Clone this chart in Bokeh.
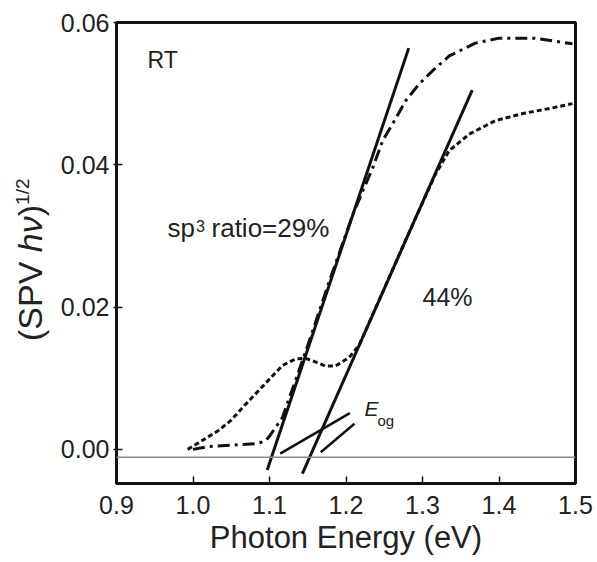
from bokeh.plotting import figure
from bokeh.models import Label, Span, Range1d, FixedTicker, PrintfTickFormatter, Div
from bokeh.layouts import row
from bokeh.embed import file_html
from bokeh.resources import INLINE

# ---- data ----
# sp3 ratio = 29 % (dash-dot curve)
e29 = [1.000, 1.020, 1.050, 1.083, 1.095, 1.101, 1.117, 1.150, 1.180, 1.210,
       1.235, 1.248, 1.265, 1.278, 1.295, 1.313, 1.335, 1.369, 1.400, 1.447, 1.496]
s29 = [0.0000, 0.0004, 0.0006, 0.0008, 0.0012, 0.0020, 0.0045, 0.0146, 0.0242, 0.0333,
       0.0396, 0.0434, 0.0465, 0.0490, 0.0513, 0.0532, 0.0553, 0.0571, 0.0578, 0.0578, 0.0570]

# sp3 ratio = 44 % (short-dash curve)
e44 = [0.993, 1.010, 1.034, 1.050, 1.065, 1.080, 1.095, 1.117, 1.134, 1.147, 1.160,
       1.173, 1.186, 1.204, 1.217, 1.250, 1.280, 1.317, 1.335, 1.361, 1.395, 1.431,
       1.470, 1.496]
s44 = [0.0000, 0.0011, 0.0027, 0.0041, 0.0059, 0.0076, 0.0093, 0.0118, 0.0127, 0.0128, 0.0123,
       0.0117, 0.0117, 0.0129, 0.0146, 0.0226, 0.0299, 0.0387, 0.0420, 0.0443, 0.0462, 0.0472,
       0.0480, 0.0486]

# linear extrapolation (tangent) lines
tan29_x = [1.097, 1.282]
tan29_y = [-0.0029, 0.0564]
tan44_x = [1.143, 1.365]
tan44_y = [-0.0034, 0.0505]

# E_og marker lines
eogA_x = [1.114, 1.205]
eogA_y = [-0.0006, 0.0051]
eogB_x = [1.167, 1.211]
eogB_y = [-0.0004, 0.0036]

baseline_level = -0.0011

x_ticks = [0.9, 1.0, 1.1, 1.2, 1.3, 1.4, 1.5]
y_ticks = [0.00, 0.02, 0.04, 0.06]

FONT = "Liberation Sans"
INK = "#111111"
TXT = "#222222"
W, H = 597, 562
D = 44   # width of the y-title strip

p = figure(width=W - D - 8, height=H,
           x_range=Range1d(0.9, 1.5), y_range=Range1d(-0.0048, 0.060),
           output_backend="svg", toolbar_location=None,
           min_border_left=62, min_border_right=24,
           min_border_top=22, min_border_bottom=79)

p.grid.visible = False
p.outline_line_color = INK
p.outline_line_width = 3
p.background_fill_color = "white"
p.border_fill_color = "white"

for ax in (p.xaxis[0], p.yaxis[0]):
    ax.axis_line_color = INK
    ax.axis_line_width = 3
    ax.major_tick_line_color = INK
    ax.major_tick_line_width = 1.5
    ax.minor_tick_line_color = None
    ax.major_label_text_font = FONT
    ax.major_label_text_font_size = "25px"
    ax.major_label_text_color = TXT

p.xaxis.ticker = FixedTicker(ticks=x_ticks)
p.xaxis.formatter = PrintfTickFormatter(format="%.1f")
p.xaxis.major_tick_in = 7
p.xaxis.major_tick_out = 0
p.xaxis.major_label_standoff = 12
p.xaxis.axis_label = "Photon Energy (eV)"
p.xaxis.axis_label_text_font = FONT
p.xaxis.axis_label_text_font_size = "31px"
p.xaxis.axis_label_text_font_style = "normal"
p.xaxis.axis_label_text_color = TXT
p.xaxis.axis_label_standoff = 3

p.yaxis.ticker = FixedTicker(ticks=y_ticks)
p.yaxis.formatter = PrintfTickFormatter(format="%.2f")
p.yaxis.major_tick_in = 6
p.yaxis.major_tick_out = 3
p.yaxis.major_label_standoff = 4

# baseline
p.add_layout(Span(location=baseline_level, dimension="width",
                  line_color="#8a8a8a", line_width=1.5))

# curves
p.line(e29, s29, line_color=INK, line_width=3, line_dash="12 5 3 5")
p.line(e44, s44, line_color=INK, line_width=3, line_dash="5 3")

# tangents
p.line(tan29_x, tan29_y, line_color=INK, line_width=3)
p.line(tan44_x, tan44_y, line_color=INK, line_width=3)
p.line(eogA_x, eogA_y, line_color=INK, line_width=2.5)
p.line(eogB_x, eogB_y, line_color=INK, line_width=2.5)

def lab(x, y, text, size, **kw):
    p.add_layout(Label(x=x, y=y, text=text, text_font=FONT,
                       text_font_size=size, text_color=TXT, **kw))

lab(0.9405, 0.0529, "RT", "23px")
lab(0.9667, 0.02905, "sp", "26px")
lab(1.0039, 0.03054, "3", "16px")
lab(1.0242, 0.02905, "ratio=29%", "26px")
lab(1.300, 0.01938, "44%", "25px")
lab(1.2242, 0.00406, "E", "21px", text_font_style="italic")
lab(1.2412, 0.00285, "og", "15px")

# y-axis title, rotated HTML text in a strip left of the plot
ytitle = Div(
    width=D, height=H,
    text=(
        '<div style="margin-left:8px; margin-top:336px; width:max-content; '
        'transform-origin:0 0; transform:rotate(-90deg); white-space:nowrap; '
        "font-family:'Liberation Sans'; font-size:34px; line-height:1; color:#222222;\">"
        '(SPV <i>h&nu;</i>)'
        '<span style="font-size:19px; position:relative; top:-13px;">1/2</span>'
        '</div>'
    ),
)

layout = row(ytitle, p)
open("out.html", "w").write(file_html(layout, INLINE))
